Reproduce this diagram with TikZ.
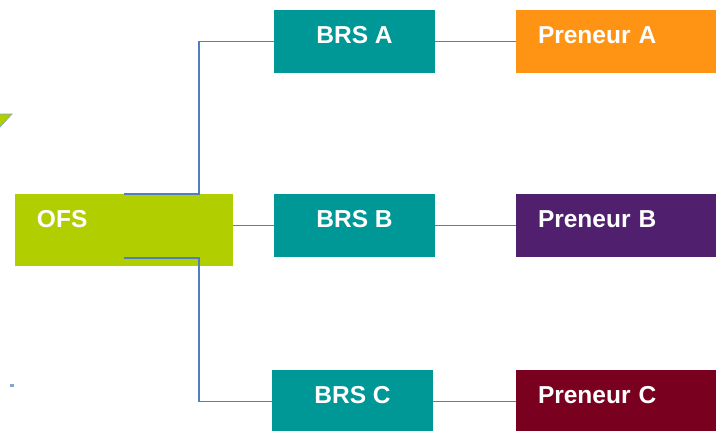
\documentclass[tikz,border=0pt]{standalone}
\usepackage{fontspec}
\setmainfont{Liberation Sans}
\usetikzlibrary{positioning}
\definecolor{ofsgreen}{RGB}{176,206,0}
\definecolor{brsteal}{RGB}{0,151,151}
\definecolor{prenorange}{RGB}{255,148,20}
\definecolor{prenpurple}{RGB}{80,32,110}
\definecolor{prenred}{RGB}{122,0,32}
\definecolor{linkblue}{RGB}{79,127,190}

\begin{document}
\begin{tikzpicture}[x=1pt,y=-1pt,
    box/.style={rectangle,inner xsep=0pt,inner ysep=0pt,minimum height=63pt,
      text=white,font=\fontsize{24.5}{28}\selectfont\bfseries,
      text height=17.5pt,text depth=13pt},
    brs/.style={box,fill=brsteal,minimum width=161pt},
    pren/.style={box,minimum width=244pt,text width=200pt,align=left},
    ofsbox/.style={box,fill=ofsgreen,minimum width=218pt,minimum height=72pt,
      text width=174pt,align=left,text depth=22pt},
    link/.style={draw=linkblue,line width=1.5pt}]
    \useasboundingbox (0,0) rectangle (716,431);
    % bits at the left edge
    \filldraw[fill=ofsgreen,draw=linkblue!70,line width=0.8pt] (-4,114) -- (12,114) -- (0,127) -- cycle;
    \fill[linkblue!70] (10,384) rectangle (14,387);
    % nodes
    \node[ofsbox] (ofs) at (124,230) {OFS};
    \node[brs] (brsA) at (354.5,41.5) {BRS A};
    \node[brs] (brsB) at (354.5,225.5) {BRS B};
    \node[brs] (brsC) at (352.5,401.5) {BRS C};
    \node[pren,fill=prenorange] (prenA) at (638,41.5) {Preneur A};
    \node[pren,fill=prenpurple] (prenB) at (638,225.5) {Preneur B};
    \node[pren,fill=prenred] (prenC) at (638,401.5) {Preneur C};
    \coordinate (ofsB) at (124,258);
    % links
    \draw[link] (ofs.north) -- ++(75,0) |- (brsA.west);
    \draw[link] (ofsB) -- ++(75,0) |- (brsC.west);
    \draw[link] (brsB.west -| ofs.east) -- (brsB.west);
    \draw[link] (brsA) -- (prenA);
    \draw[link] (brsB) -- (prenB);
    \draw[link] (brsC) -- (prenC);
\end{tikzpicture}
\end{document}
